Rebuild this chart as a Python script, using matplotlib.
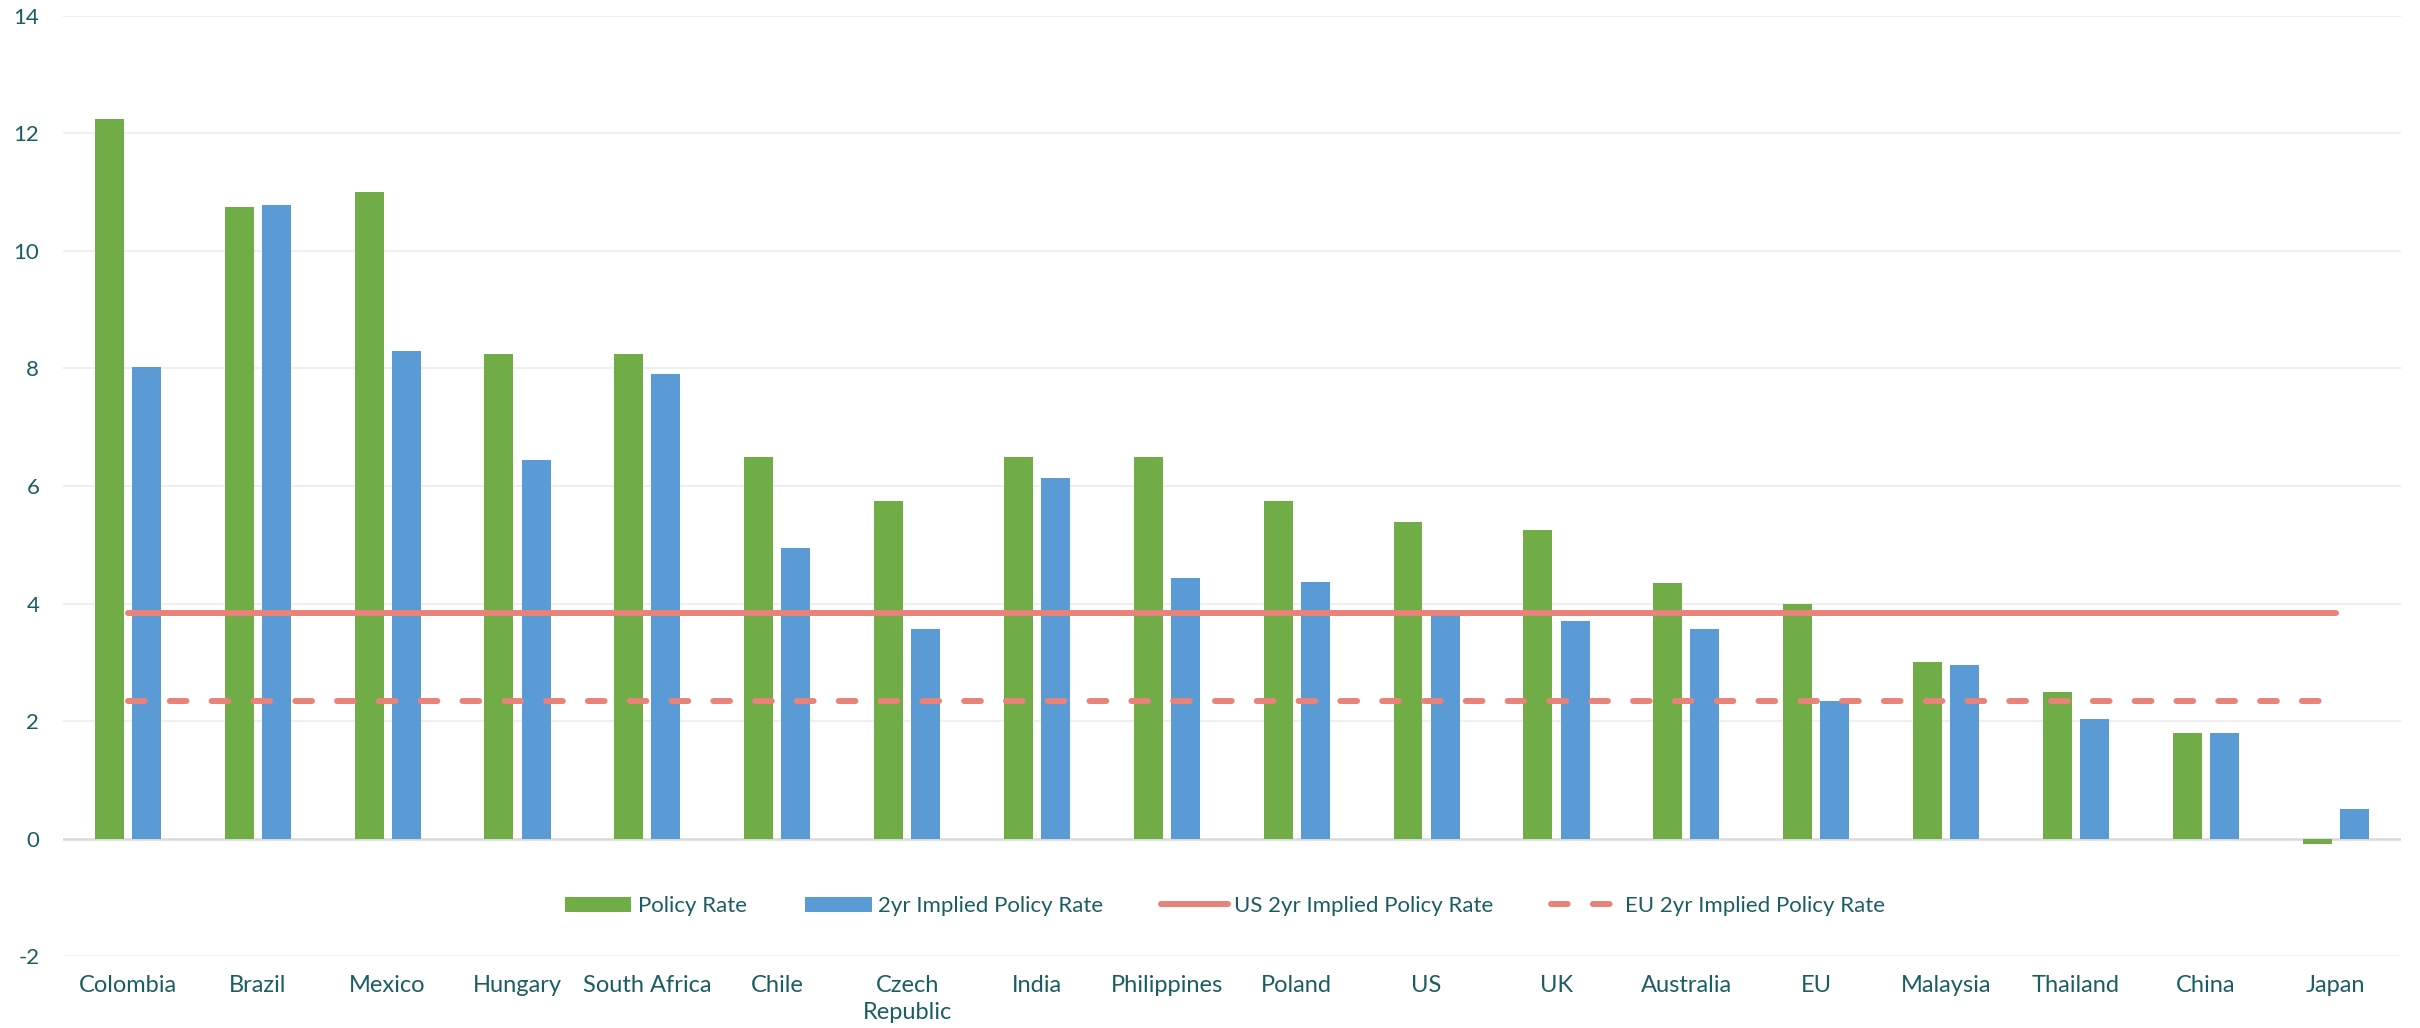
import matplotlib

matplotlib.use('Agg')

import numpy as np
import matplotlib.pyplot as plt
from matplotlib.lines import Line2D
from matplotlib.patches import Patch

# Policy rates vs market-implied 2yr policy rates (%) #
countries = ['Colombia', 'Brazil', 'Mexico', 'Hungary', 'South Africa', 'Chile', 'Czech\nRepublic', 'India',
             'Philippines', 'Poland', 'US', 'UK', 'Australia', 'EU', 'Malaysia', 'Thailand', 'China', 'Japan']
policy_rate = [12.25, 10.75, 11.0, 8.25, 8.25, 6.5, 5.75, 6.5, 6.5, 5.75, 5.38, 5.25, 4.35, 4.0, 3.0, 2.5, 1.8, -0.1]
implied_rate = [8.02, 10.79, 8.3, 6.45, 7.9, 4.95, 3.56, 6.14, 4.43, 4.37, 3.82, 3.7, 3.56, 2.34, 2.96, 2.04, 1.8, 0.5]
us_implied = 3.83
eu_implied = 2.34
y_ticks = [-2, 0, 2, 4, 6, 8, 10, 12, 14]

GREEN = '#70AD47'
BLUE = '#5B9BD5'
SALMON = '#E8837A'
TEXT = '#1A5E63'

plt.rcParams['font.family'] = ['Lato', 'DejaVu Sans']


def plot():
    """
    Grouped bars of policy rate and 2yr implied policy rate with US/EU reference lines.
    """
    figure = plt.figure(figsize=(24.2, 10.28), dpi=100)
    axis = figure.add_axes([0.026, 0.07, 0.966, 0.9145])

    x = np.arange(len(countries))
    width = 0.223
    offset = 0.143

    axis.bar(x - offset, policy_rate, width, color=GREEN, zorder=3)
    axis.bar(x + offset, implied_rate, width, color=BLUE, zorder=3)
    axis.plot(x, np.full(len(x), us_implied), color=SALMON, lw=4.3, solid_capstyle='round', zorder=4)
    axis.plot(x, np.full(len(x), eu_implied), color=SALMON, lw=4.3, linestyle=(0, (2.8, 4.2)),
              dash_capstyle='round', zorder=4)

    # Axes styling #
    axis.set_xlim(-0.5, len(countries) - 0.5)
    axis.set_ylim(-2, 14)
    axis.set_yticks(y_ticks)
    axis.set_yticklabels([str(t) for t in y_ticks])
    axis.set_xticks(x)
    axis.set_xticklabels(countries, linespacing=1.3)
    for spine in axis.spines.values():
        spine.set_visible(False)
    axis.tick_params(axis='both', length=0, colors=TEXT)
    axis.tick_params(axis='y', labelsize=16, pad=17)
    axis.tick_params(axis='x', labelsize=17, pad=14)
    for t in y_ticks:
        if t != 0:
            axis.axhline(t, color='#EFEFEF', lw=1.5, zorder=1)
    axis.axhline(0, color='#D9D9D9', lw=1.8, zorder=2)

    # Legend #
    handles = [Patch(facecolor=GREEN), Patch(facecolor=BLUE),
               Line2D([0], [0], color=SALMON, lw=4.3, solid_capstyle='round'),
               Line2D([0], [0], color=SALMON, lw=4.3, linestyle=(0, (2.8, 4.2)), dash_capstyle='round')]
    labels = ['Policy Rate', '2yr Implied Policy Rate', 'US 2yr Implied Policy Rate', 'EU 2yr Implied Policy Rate']
    legend = axis.legend(handles, labels, loc='center', bbox_to_anchor=(0.497, 0.053), ncol=4, frameon=False,
                         fontsize=16, handlelength=3.0, handleheight=0.7, handletextpad=0.3, columnspacing=2.6)
    for text in legend.get_texts():
        text.set_color(TEXT)

    plt.savefig('out.png', dpi=100)
    return None


if __name__ == '__main__':
    plot()
